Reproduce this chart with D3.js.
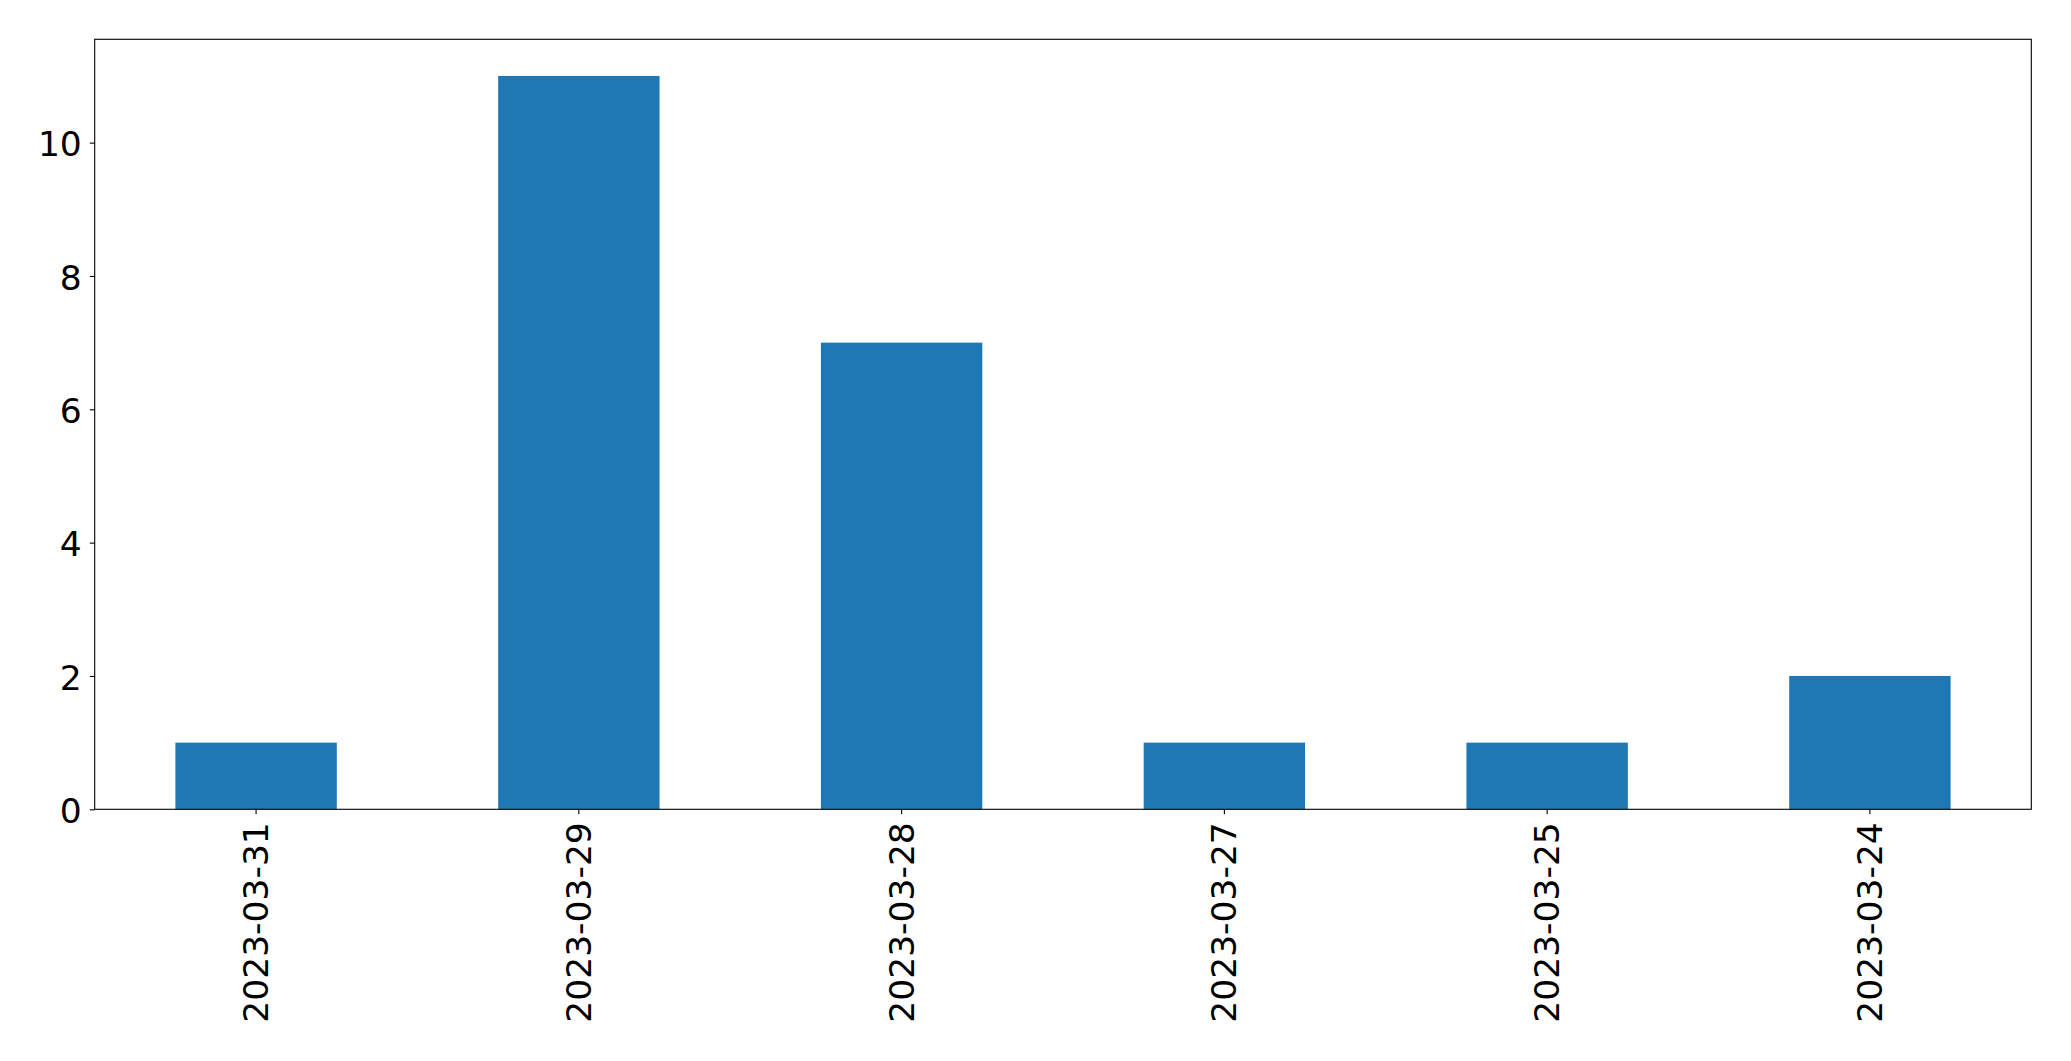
<!DOCTYPE html>
<html><head><meta charset="utf-8">
<script src="https://cdn.jsdelivr.net/npm/d3@7"></script>
<style>body{margin:0;background:#fff;} svg{display:block;}</style>
</head><body>
<svg id="c" width="2071" height="1061"></svg>
<script>
const categories = ["2023-03-31","2023-03-29","2023-03-28","2023-03-27","2023-03-25","2023-03-24"];
const values = [1, 11, 7, 1, 1, 2];
const yTicks = [0, 2, 4, 6, 8, 10];

const W = 2071, H = 1061;
const m = {left: 94.7, right: 2031.3, top: 39.3, bottom: 809.3};
const svg = d3.select("#c");
const fs = 34.5, tick = 4.9;

const x = d3.scaleBand().domain(categories).range([m.left, m.right]).paddingInner(0.5).paddingOuter(0.25);
const y = d3.scaleLinear().domain([0, 11 * 1.05]).range([m.bottom, m.top]);

svg.append("g").selectAll("rect").data(values).join("rect")
  .attr("x", (d, i) => x(categories[i]))
  .attr("width", x.bandwidth())
  .attr("y", d => y(d))
  .attr("height", d => y(0) - y(d))
  .attr("fill", "#1f77b4");

const ax = svg.append("g").attr("transform", `translate(0,${m.bottom})`)
  .call(d3.axisBottom(x).tickSize(tick).tickPadding(0));
ax.select(".domain").remove();
ax.selectAll("line").attr("stroke", "#000").attr("stroke-width", 1.1);
ax.selectAll("text")
  .attr("font-family", "DejaVu Sans").attr("font-size", fs).attr("fill", "#000")
  .attr("text-anchor", "end")
  .attr("transform", `translate(0,${tick + 8}) rotate(-90)`)
  .attr("x", 0).attr("y", 0).attr("dy", "0.35em");

const ay = svg.append("g").attr("transform", `translate(${m.left},0)`)
  .call(d3.axisLeft(y).tickValues(yTicks).tickSize(tick).tickPadding(8).tickFormat(d3.format("d")));
ay.select(".domain").remove();
ay.selectAll("line").attr("stroke", "#000").attr("stroke-width", 1.1);
ay.selectAll("text").attr("font-family", "DejaVu Sans").attr("font-size", fs).attr("fill", "#000").attr("dy", "0.38em");

svg.append("rect").attr("x", m.left).attr("y", m.top)
  .attr("width", m.right - m.left).attr("height", m.bottom - m.top)
  .attr("fill", "none").attr("stroke", "#000").attr("stroke-width", 1.1);
</script>
</body></html>
